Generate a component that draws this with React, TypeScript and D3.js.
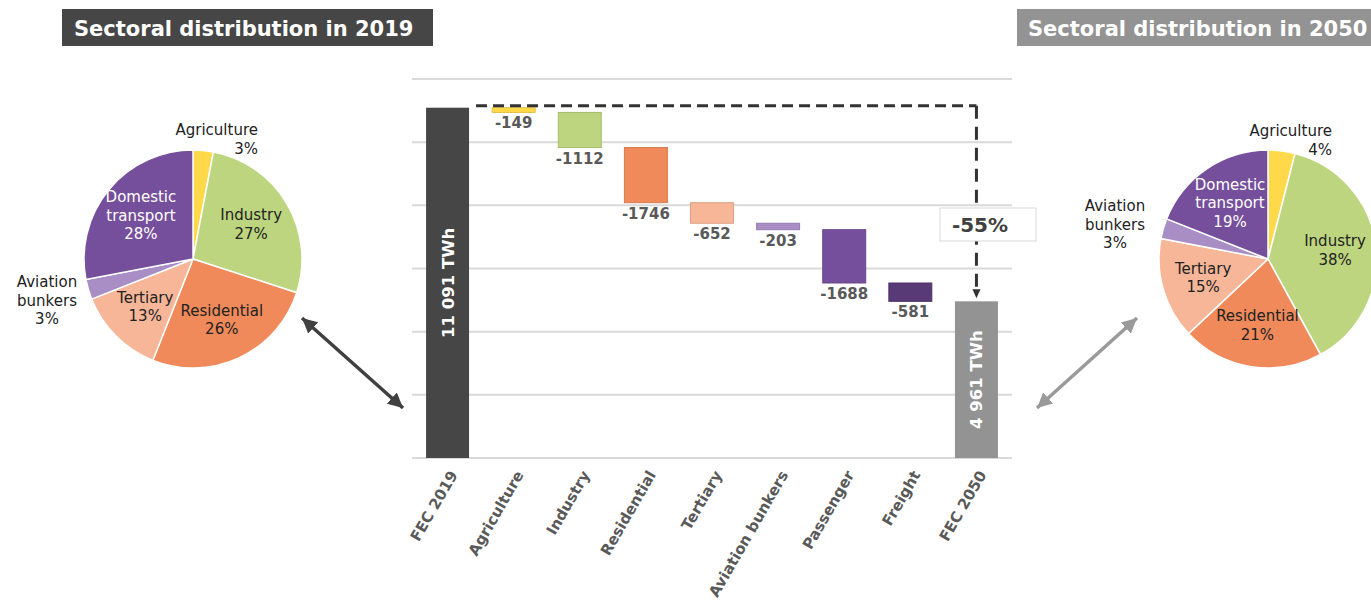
import React from 'react';
import * as d3 from 'd3';

// ---------- DATA ----------
const wfCategories = ['FEC 2019', 'Agriculture', 'Industry', 'Residential', 'Tertiary', 'Aviation bunkers', 'Passenger', 'Freight', 'FEC 2050'];
const wfValues = [11091, -149, -1112, -1746, -652, -203, -1688, -581, 4961];
const wfIsTotal = [true, false, false, false, false, false, false, false, true];
const yTicks = [0, 2000, 4000, 6000, 8000, 10000, 12000];
const changeLabel = '-55%';

const pieSectors = ['Agriculture', 'Industry', 'Residential', 'Tertiary', 'Aviation bunkers', 'Domestic transport'];
const pie2019 = [3, 27, 26, 13, 3, 28];
const pie2050 = [4, 38, 21, 15, 3, 19];
const title2019 = 'Sectoral distribution in 2019';
const title2050 = 'Sectoral distribution in 2050';

// ---------- STYLE ----------
const wfColors = ['#464646', '#FFD94A', '#BDD57E', '#F08A5A', '#F7B698', '#A98DC5', '#764F9C', '#583A77', '#939393'];
const pieColors = ['#FFD94A', '#BDD57E', '#F08A5A', '#F7B698', '#A98DC5', '#764F9C'];
const pieTextColors = ['#222', '#222', '#222', '#222', '#222', '#fff'];
const FONT = '"DejaVu Sans", Verdana, sans-serif';

const fmt = d3.formatLocale({ decimal: '.', thousands: ' ', grouping: [3], currency: ['', ''] }).format(',');

// label layout for labels outside pies: anchor and first-baseline offset relative to pie centre
const outsideLayout: Record<string, { anchor: string; dx: number; dy: number }>[] = [
  {
    'Agriculture': { anchor: 'end', dx: 65, dy: -124 },
    'Aviation bunkers': { anchor: 'middle', dx: -146, dy: 28 },
  },
  {
    'Agriculture': { anchor: 'end', dx: 64, dy: -123 },
    'Aviation bunkers': { anchor: 'middle', dx: -153, dy: -48 },
  },
];

function splitLabel(name: string): string[] {
  if (name === 'Aviation bunkers') return ['Aviation', 'bunkers'];
  if (name === 'Domestic transport') return ['Domestic', 'transport'];
  return [name];
}

function Pie({ cx, cy, r, values, layout }: { cx: number; cy: number; r: number; values: number[]; layout: any }) {
  const arcs = d3.pie<number>().sort(null).value((d) => d)(values);
  const arc = d3.arc<d3.PieArcDatum<number>>().innerRadius(0).outerRadius(r);
  const labelArc = d3.arc<d3.PieArcDatum<number>>().innerRadius(r * 0.62).outerRadius(r * 0.62);
  const lh = 18.5;
  return (
    <g transform={`translate(${cx},${cy})`}>
      {arcs.map((a, i) => (
        <path key={i} d={arc(a) || ''} fill={pieColors[i]} stroke="#fff" strokeWidth={1.5} />
      ))}
      {arcs.map((a, i) => {
        const name = pieSectors[i];
        const lines = [...splitLabel(name), `${values[i]}%`];
        const out = layout[name];
        if (out) {
          return (
            <text key={'l' + i} fontSize={15} fill="#222" textAnchor={out.anchor}>
              {lines.map((l, j) => (
                <tspan key={j} x={out.dx} y={out.dy + j * lh}>{l}</tspan>
              ))}
            </text>
          );
        }
        const [x, y] = labelArc.centroid(a);
        const y0 = y - ((lines.length - 1) * lh) / 2 + 5;
        return (
          <text key={'l' + i} fontSize={15} fill={pieTextColors[i]} textAnchor="middle">
            {lines.map((l, j) => (
              <tspan key={j} x={x} y={y0 + j * lh}>{l}</tspan>
            ))}
          </text>
        );
      })}
    </g>
  );
}

export default function App() {
  const W = 1371, H = 601;
  const x = d3.scaleBand<string>().domain(wfCategories).range([414.5, 1009.5]).paddingInner(0.35).paddingOuter(0.175);
  const y = d3.scaleLinear().domain([0, 12000]).range([458, 79]);

  let running = 0;
  const bars = wfCategories.map((c, i) => {
    const v = wfValues[i];
    let start: number, end: number;
    if (wfIsTotal[i]) {
      start = 0; end = v; running = v;
    } else {
      start = running; end = running + v; running = end;
    }
    return { c, v, start, end, i };
  });

  const first = bars[0];
  const last = bars[bars.length - 1];
  const dashY = y(first.end) - 2;
  const dashX0 = (x(first.c) as number) + x.bandwidth() + 7;
  const lastCx = (x(last.c) as number) + x.bandwidth() / 2;
  const arrowTip = y(last.end) - 3;

  return (
    <svg width={W} height={H} style={{ position: 'absolute', left: 0, top: 0, fontFamily: FONT }}>
      <defs>
        <marker id="ahDark" viewBox="0 0 10 10" refX={10} refY={5} markerWidth={15} markerHeight={15} markerUnits="userSpaceOnUse" orient="auto-start-reverse">
          <path d="M0,0 L10,5 L0,10 z" fill="#404040" />
        </marker>
        <marker id="ahGrey" viewBox="0 0 10 10" refX={10} refY={5} markerWidth={15} markerHeight={15} markerUnits="userSpaceOnUse" orient="auto-start-reverse">
          <path d="M0,0 L10,5 L0,10 z" fill="#9a9a9a" />
        </marker>
      </defs>

      {/* Titles */}
      <rect x={62} y={9} width={371} height={37} fill="#464646" />
      <text x={74} y={35.5} fill="#fff" fontSize={21} fontWeight="bold">{title2019}</text>
      <rect x={1017} y={9} width={370} height={37} fill="#939393" />
      <text x={1028} y={35.5} fill="#fff" fontSize={21} fontWeight="bold">{title2050}</text>

      {/* Gridlines */}
      {yTicks.map((t) => (
        <line key={t} x1={412} x2={1012} y1={y(t)} y2={y(t)} stroke="#d9d9d9" strokeWidth={2} />
      ))}

      {/* Bars */}
      {bars.map((b) => {
        const top = y(Math.max(b.start, b.end));
        const bot = y(Math.min(b.start, b.end));
        const col = wfColors[b.i];
        return (
          <rect key={b.c} x={x(b.c)} y={top} width={x.bandwidth()} height={Math.max(bot - top, 1)} fill={col}
            stroke={wfIsTotal[b.i] ? 'none' : (d3.color(col) as any).darker(0.35).toString()} strokeWidth={1} />
        );
      })}

      {/* Value labels */}
      {bars.map((b) => {
        const cx = (x(b.c) as number) + x.bandwidth() / 2;
        if (wfIsTotal[b.i]) {
          const cy = (y(b.end) + y(0)) / 2;
          return (
            <text key={'v' + b.c} transform={`translate(${cx + 6},${cy}) rotate(-90)`} textAnchor="middle" fill="#fff" fontSize={16.5} fontWeight="bold">
              {`${fmt(b.v)} TWh`}
            </text>
          );
        }
        return (
          <text key={'v' + b.c} x={cx} y={y(b.end) + 16} textAnchor="middle" fill="#595959" fontSize={15} fontWeight="bold">
            {String(b.v)}
          </text>
        );
      })}

      {/* Dashed connector */}
      <path d={`M${dashX0},${dashY} H${lastCx}`} fill="none" stroke="#333" strokeWidth={3} strokeDasharray="11 6" />
      <path d={`M${lastCx},${dashY} V${arrowTip - 8}`} fill="none" stroke="#333" strokeWidth={3} strokeDasharray="13 8" />
      <path d={`M${lastCx - 4},${arrowTip - 9} L${lastCx + 4},${arrowTip - 9} L${lastCx},${arrowTip} z`} fill="#333" />

      {/* -55% box */}
      <rect x={940} y={208} width={96} height={33} fill="#fff" stroke="#d9d9d9" strokeWidth={1} />
      <text x={980} y={232} textAnchor="middle" fill="#404040" fontSize={20} fontWeight="bold">{changeLabel}</text>

      {/* X axis labels */}
      {wfCategories.map((c) => {
        const cx = (x(c) as number) + x.bandwidth() / 2;
        return (
          <text key={'x' + c} transform={`translate(${cx + 6},${472}) rotate(-60)`} textAnchor="end" dy="0.35em" fill="#595959" fontSize={15} fontWeight="bold">
            {c}
          </text>
        );
      })}

      {/* Pies */}
      <Pie cx={193} cy={259} r={109} values={pie2019} layout={outsideLayout[0]} />
      <Pie cx={1268} cy={259} r={109} values={pie2050} layout={outsideLayout[1]} />

      {/* Double arrows */}
      <line x1={302} y1={318} x2={403} y2={408} stroke="#404040" strokeWidth={3.5} markerStart="url(#ahDark)" markerEnd="url(#ahDark)" />
      <line x1={1037} y1={408} x2={1137} y2={318} stroke="#9a9a9a" strokeWidth={3.5} markerStart="url(#ahGrey)" markerEnd="url(#ahGrey)" />
    </svg>
  );
}
